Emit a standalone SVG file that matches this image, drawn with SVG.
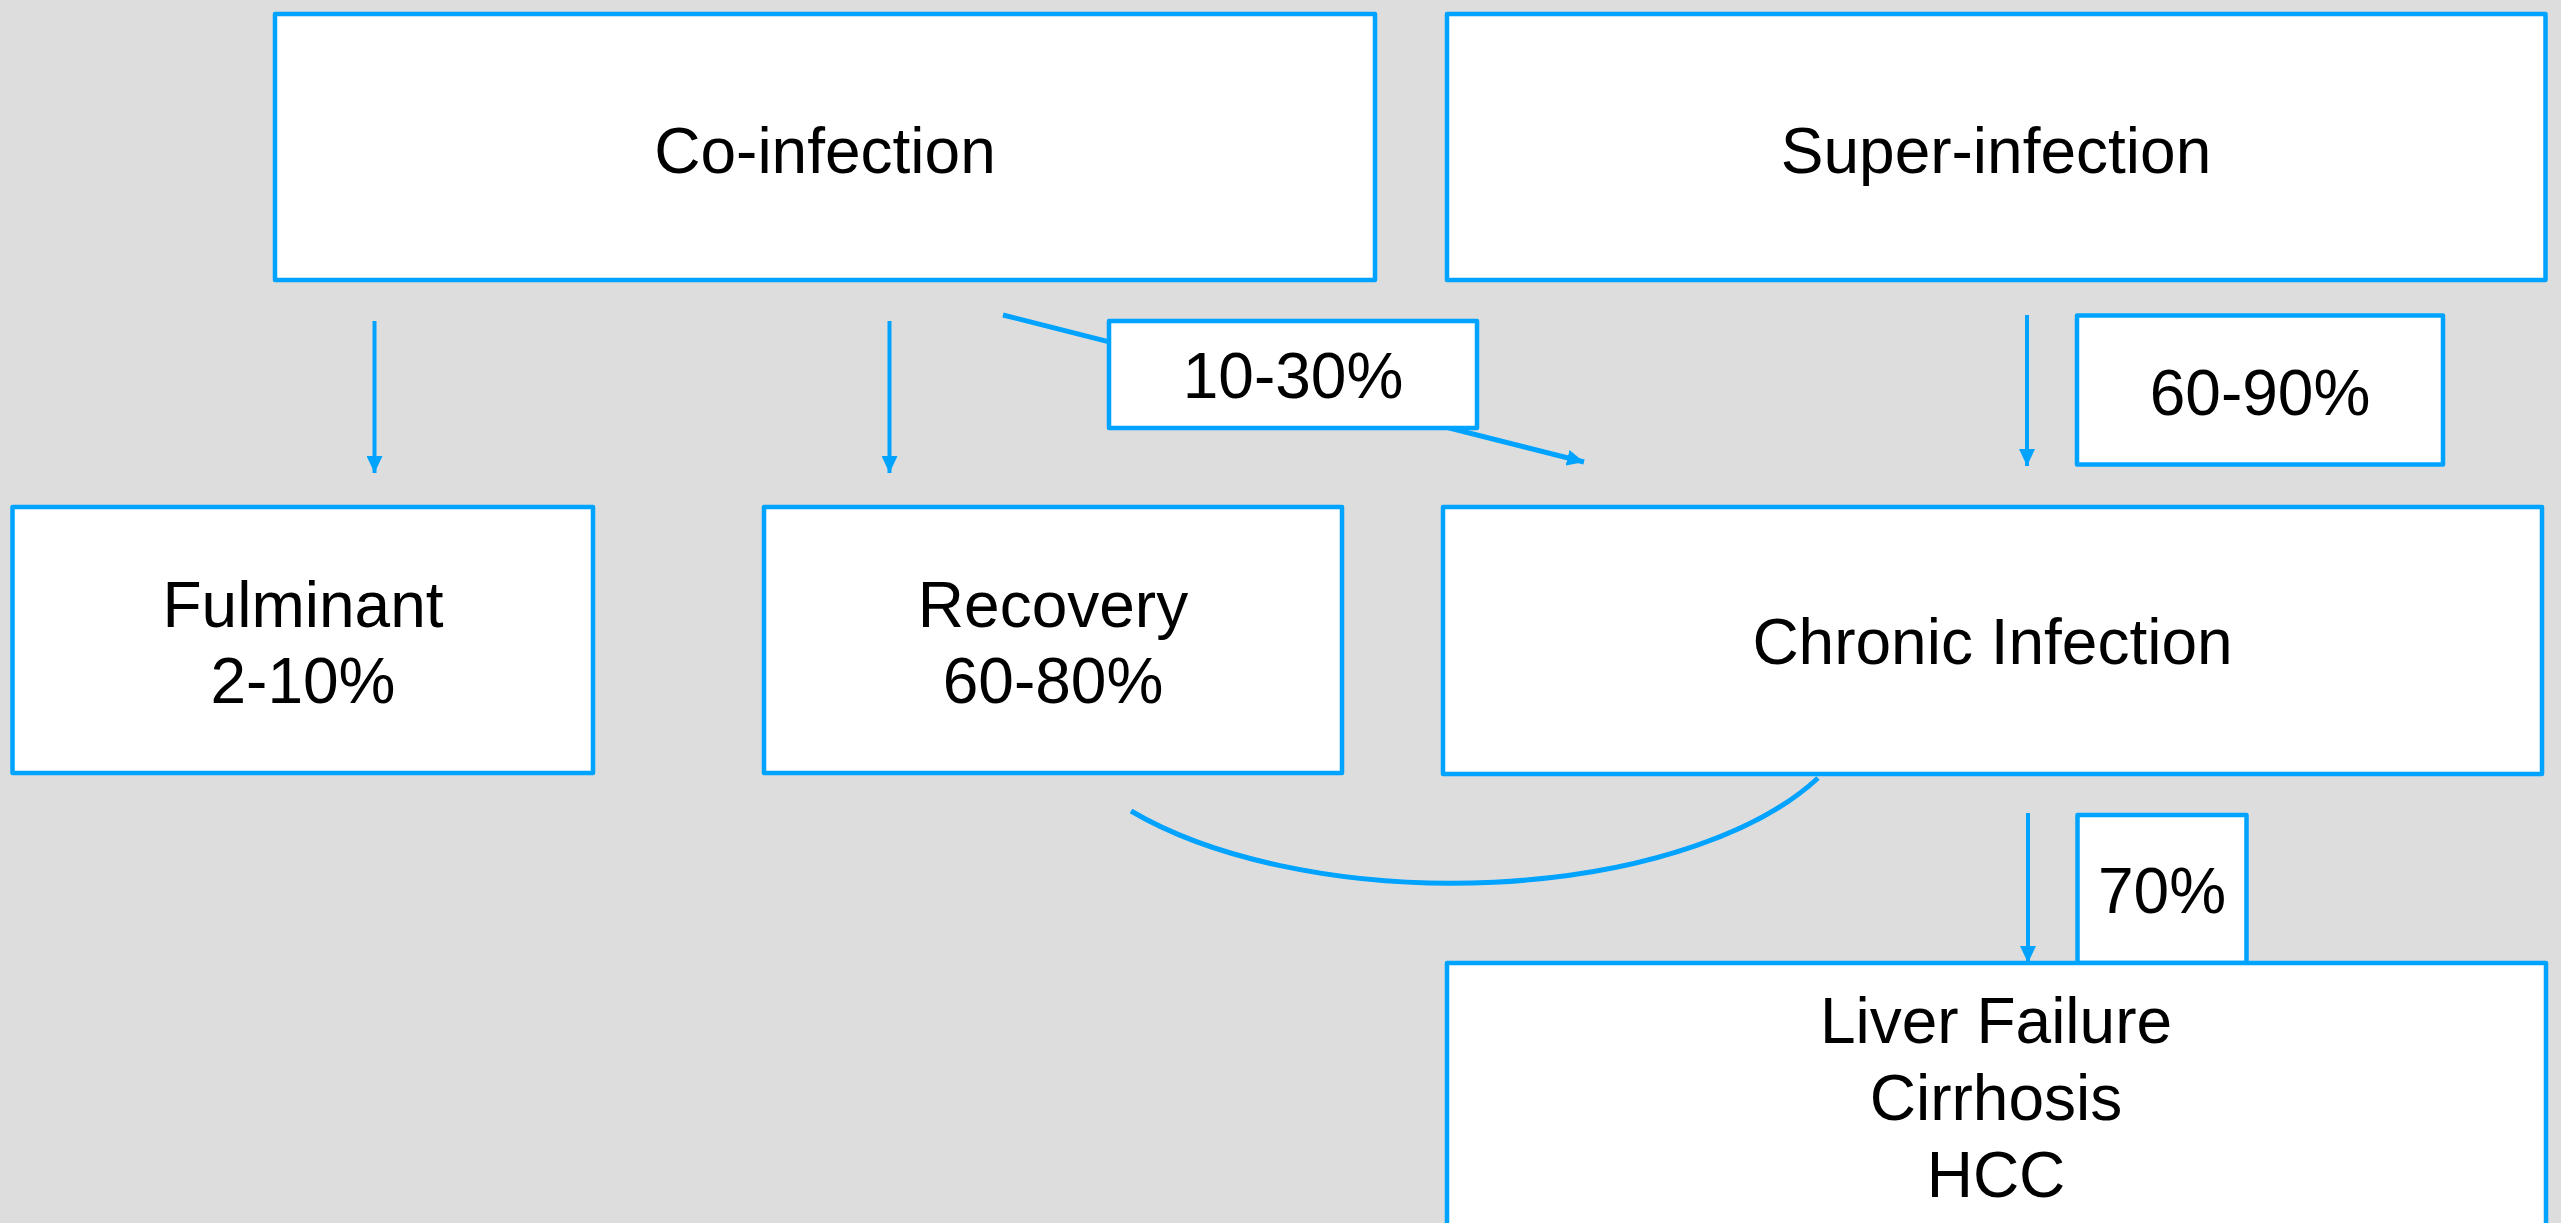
<svg xmlns="http://www.w3.org/2000/svg" width="2561" height="1223" viewBox="0 0 2561 1223">
<style>
.box{fill:#FFFFFF;stroke:#00A3FF;stroke-width:4.5;stroke-linejoin:round}
.lbl{fill:#FFFFFF;stroke:#00A3FF;stroke-width:4.5;stroke-linejoin:round}
.t{font-family:"Liberation Sans",Arial,sans-serif;font-size:64px;fill:#000000;text-anchor:middle}
.arr{fill:none;stroke:#00A3FF;stroke-width:4}
.thick{fill:none;stroke:#00A3FF;stroke-width:5}
</style>
<defs>
<marker id="ah" markerUnits="userSpaceOnUse" markerWidth="18" markerHeight="16" refX="17" refY="8" orient="auto">
<path d="M0,0 L17,8 L0,16 z" fill="#00A3FF"/>
</marker>
</defs>
<rect x="0" y="0" width="2561" height="1223" fill="#DDDDDD"/>
<g id="connectors">
<line class="arr" x1="374.5" y1="321" x2="374.5" y2="473" marker-end="url(#ah)"/>
<line class="arr" x1="889.5" y1="321" x2="889.5" y2="473" marker-end="url(#ah)"/>
<line class="thick" x1="1003" y1="315" x2="1584" y2="462" marker-end="url(#ah)"/>
<line class="arr" x1="2027" y1="315" x2="2027" y2="466" marker-end="url(#ah)"/>
<line class="arr" x1="2028" y1="813" x2="2028" y2="963" marker-end="url(#ah)"/>
<path class="thick" d="M1131 811 A409 190 0 0 0 1818 778"/>
</g>
<g id="co-infection">
<rect class="box" x="275" y="14" width="1100" height="266"/>
<text class="t" x="825" y="173">Co-infection</text>
</g>
<g id="super-infection">
<rect class="box" x="1447" y="14" width="1098.5" height="266"/>
<text class="t" x="1996" y="173">Super-infection</text>
</g>
<g id="label-10-30">
<rect class="lbl" x="1109" y="321" width="368" height="107"/>
<text class="t" x="1293" y="398">10-30%</text>
</g>
<g id="label-60-90">
<rect class="lbl" x="2077" y="315.5" width="366" height="149"/>
<text class="t" x="2260" y="415">60-90%</text>
</g>
<g id="fulminant">
<rect class="box" x="12.5" y="507" width="580.5" height="266"/>
<text class="t" x="303" y="627">Fulminant</text>
<text class="t" x="303" y="703">2-10%</text>
</g>
<g id="recovery">
<rect class="box" x="764" y="507" width="578" height="266"/>
<text class="t" x="1053" y="627">Recovery</text>
<text class="t" x="1053" y="703">60-80%</text>
</g>
<g id="chronic">
<rect class="box" x="1443" y="507" width="1099" height="267"/>
<text class="t" x="1992.5" y="664">Chronic Infection</text>
</g>
<g id="label-70">
<rect class="lbl" x="2077.5" y="815" width="169" height="148"/>
<text class="t" x="2162" y="913">70%</text>
</g>
<g id="liver">
<rect class="box" x="1447" y="963" width="1099" height="290"/>
<text class="t" x="1996" y="1043">Liver Failure</text>
<text class="t" x="1996" y="1120">Cirrhosis</text>
<text class="t" x="1996" y="1197">HCC</text>
</g>
</svg>
